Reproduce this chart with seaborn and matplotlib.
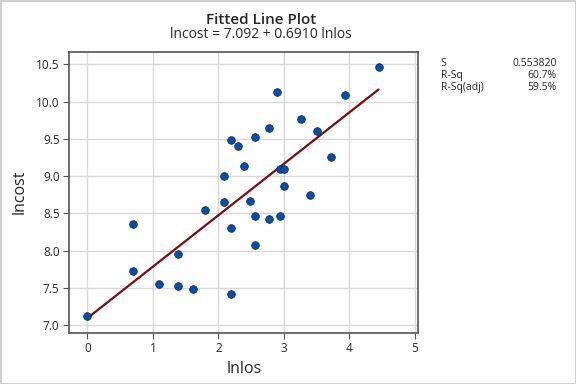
import matplotlib
matplotlib.use("Agg")
import matplotlib.pyplot as plt
import pandas as pd
import seaborn as sns

# data
lnlos = [0.000, 0.693, 0.693, 1.099, 1.386, 1.386, 1.609, 1.792,
         2.079, 2.079, 2.197, 2.197, 2.197, 2.303, 2.398, 2.485,
         2.565, 2.565, 2.565, 2.773, 2.773, 2.890, 2.944, 2.944,
         2.996, 2.996, 3.258, 3.401, 3.497, 3.714, 3.932, 4.443]
lncost = [7.12, 8.36, 7.72, 7.55, 7.95, 7.52, 7.48, 8.54,
          9.00, 8.65, 9.49, 8.30, 7.41, 9.41, 9.14, 8.67,
          9.52, 8.47, 8.07, 9.64, 8.43, 10.13, 9.10, 8.46,
          9.09, 8.87, 9.77, 8.74, 9.61, 9.26, 10.09, 10.47]

# fit reported in the reference
intercept = 7.092
slope = 0.6910
stat_names = ["S", "R-Sq", "R-Sq(adj)"]
stat_values = ["0.553820", "60.7%", "59.5%"]

x_ticks = [0, 1, 2, 3, 4, 5]
y_ticks = [7.0, 7.5, 8.0, 8.5, 9.0, 9.5, 10.0, 10.5]

df = pd.DataFrame({"lnlos": lnlos, "lncost": lncost})
fit = pd.DataFrame({"lnlos": [min(lnlos), max(lnlos)]})
fit["lncost"] = intercept + slope * fit["lnlos"]

sns.set_style("white")
plt.rcParams["font.family"] = ["Open Sans", "DejaVu Sans"]

fig = plt.figure(figsize=(5.76, 3.84), dpi=100)
fig.patch.set_edgecolor("#d0d0d0")
fig.patch.set_linewidth(2)
ax = fig.add_axes([0.1203, 0.1336, 0.6059, 0.7318])

ax.grid(True, color="#d9d9d9", linewidth=1)
ax.set_axisbelow(True)

sns.lineplot(data=fit, x="lnlos", y="lncost", color="#7a0c0c", linewidth=1.6, ax=ax)
sns.scatterplot(data=df, x="lnlos", y="lncost", s=30, color="#0a4fa3",
                edgecolor="#0b2a66", linewidth=0.6, zorder=3, ax=ax)

ax.set_xlim(-0.275, 5.05)
ax.set_ylim(6.897, 10.67)
ax.set_xticks(x_ticks)
ax.set_yticks(y_ticks)
ax.set_yticklabels([f"{v:.1f}" for v in y_ticks])
ax.tick_params(axis="both", labelsize=8.5, length=4, width=0.8, color="#555555",
               direction="out", bottom=True, left=True, pad=3)
for s in ax.spines.values():
    s.set_color("#555555")
    s.set_linewidth(1.2)

ax.set_xlabel("lnlos", fontsize=11.5, labelpad=4)
ax.set_ylabel("lncost", fontsize=11.5, labelpad=6)

fig.text(0.453, 0.937, "Fitted Line Plot", ha="center", va="baseline",
         fontsize=11, fontweight="semibold")
fig.text(0.453, 0.901, f"lncost = {intercept:.3f} + {slope:.4f} lnlos", ha="center",
         va="baseline", fontsize=10)

for i, (n, v) in enumerate(zip(stat_names, stat_values)):
    y = 0.828 - i * 0.031
    fig.text(0.765, y, n, fontsize=7.5, va="baseline")
    fig.text(0.966, y, v, fontsize=7.5, va="baseline", ha="right")

fig.savefig("out.png", dpi=100, edgecolor=fig.get_edgecolor())
